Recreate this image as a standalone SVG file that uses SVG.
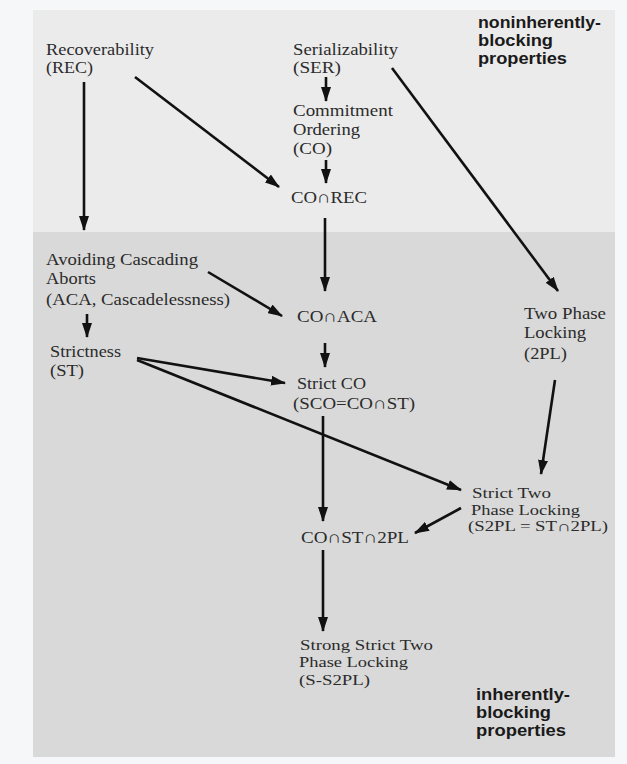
<svg xmlns="http://www.w3.org/2000/svg" width="627" height="764" viewBox="0 0 627 764">
<style>
.t{font-family:"Liberation Serif","Times New Roman",serif;font-size:17px;fill:#2b2b2b}
.s{font-size:15px}
.u{font-size:14.5px}
.b{font-family:"Liberation Sans",Arial,sans-serif;font-size:16px;font-weight:bold;fill:#1a1a1a}
.c line{stroke:#111;stroke-width:2.6;marker-end:url(#ah)}
</style>
<defs>
<marker id="ah" viewBox="0 0 15 10" refX="14" refY="5" markerWidth="15" markerHeight="10" markerUnits="userSpaceOnUse" orient="auto">
<path d="M0,0 L15,5 L0,10 Z" fill="#111"/>
</marker>
</defs>
<rect x="0" y="0" width="627" height="764" fill="#f6f7f8"/>
<rect x="33" y="10" width="582" height="222" fill="#ebebeb"/>
<rect x="33" y="232" width="582" height="525" fill="#d9d9d9"/>
<g class="c">
<line x1="84" y1="82" x2="84" y2="230"/>
<line x1="135" y1="77" x2="279" y2="187"/>
<line x1="326" y1="77" x2="326" y2="101"/>
<line x1="326" y1="160" x2="326" y2="183"/>
<line x1="325" y1="218" x2="325" y2="291"/>
<line x1="392" y1="68" x2="558" y2="291"/>
<line x1="208" y1="272" x2="282" y2="316"/>
<line x1="87" y1="314" x2="87" y2="337"/>
<line x1="325" y1="343" x2="325" y2="367"/>
<line x1="137" y1="358" x2="285" y2="383"/>
<line x1="137" y1="360" x2="461" y2="490"/>
<line x1="323" y1="416" x2="323" y2="521"/>
<line x1="555" y1="380" x2="541" y2="474"/>
<line x1="461" y1="508" x2="415" y2="533"/>
<line x1="323" y1="550" x2="323" y2="631"/>
</g>
<g id="rec"><text class="t" x="46" y="55" textLength="108" lengthAdjust="spacingAndGlyphs">Recoverability</text><text class="t" x="46" y="73" textLength="47" lengthAdjust="spacingAndGlyphs">(REC)</text></g>
<g id="ser"><text class="t" x="293" y="55" textLength="105" lengthAdjust="spacingAndGlyphs">Serializability</text><text class="t" x="293" y="73" textLength="48" lengthAdjust="spacingAndGlyphs">(SER)</text></g>
<g id="co"><text class="t" x="293" y="116" textLength="100" lengthAdjust="spacingAndGlyphs">Commitment</text><text class="t" x="293" y="135" textLength="67" lengthAdjust="spacingAndGlyphs">Ordering</text><text class="t" x="293" y="154" textLength="39" lengthAdjust="spacingAndGlyphs">(CO)</text></g>
<g id="corec"><text class="t" x="291" y="203" textLength="76" lengthAdjust="spacingAndGlyphs">CO∩REC</text></g>
<g id="aca"><text class="t" x="46" y="265" textLength="152" lengthAdjust="spacingAndGlyphs">Avoiding Cascading</text><text class="t" x="46" y="284" textLength="50" lengthAdjust="spacingAndGlyphs">Aborts</text><text class="t" x="46" y="305" textLength="184" lengthAdjust="spacingAndGlyphs">(ACA, Cascadelessness)</text></g>
<g id="coaca"><text class="t" x="297" y="322" textLength="80" lengthAdjust="spacingAndGlyphs">CO∩ACA</text></g>
<g id="st"><text class="t" x="50" y="357" textLength="71" lengthAdjust="spacingAndGlyphs">Strictness</text><text class="t" x="50" y="376" textLength="34" lengthAdjust="spacingAndGlyphs">(ST)</text></g>
<g id="sco"><text class="t" x="297" y="389" textLength="69" lengthAdjust="spacingAndGlyphs">Strict CO</text><text class="t" x="293" y="409" textLength="122" lengthAdjust="spacingAndGlyphs">(SCO=CO∩ST)</text></g>
<g id="tpl"><text class="t" x="524" y="319" textLength="82" lengthAdjust="spacingAndGlyphs">Two Phase</text><text class="t" x="524" y="338" textLength="62" lengthAdjust="spacingAndGlyphs">Locking</text><text class="t" x="524" y="359" textLength="43" lengthAdjust="spacingAndGlyphs">(2PL)</text></g>
<g id="s2pl"><text class="t u" x="472" y="498" textLength="79" lengthAdjust="spacingAndGlyphs">Strict Two</text><text class="t u" x="471" y="514.5" textLength="109" lengthAdjust="spacingAndGlyphs">Phase Locking</text><text class="t u" x="468" y="531" textLength="140" lengthAdjust="spacingAndGlyphs">(S2PL = ST∩2PL)</text></g>
<g id="cost2pl"><text class="t" x="301" y="543" textLength="108" lengthAdjust="spacingAndGlyphs">CO∩ST∩2PL</text></g>
<g id="ss2pl"><text class="t s" x="300" y="650" textLength="133" lengthAdjust="spacingAndGlyphs">Strong Strict Two</text><text class="t s" x="299" y="667" textLength="109" lengthAdjust="spacingAndGlyphs">Phase Locking</text><text class="t s" x="299" y="685" textLength="71" lengthAdjust="spacingAndGlyphs">(S-S2PL)</text></g>
<g id="nonblock"><text class="b" x="478" y="28" textLength="123" lengthAdjust="spacingAndGlyphs">noninherently-</text><text class="b" x="478" y="46" textLength="75" lengthAdjust="spacingAndGlyphs">blocking</text><text class="b" x="478" y="64" textLength="89" lengthAdjust="spacingAndGlyphs">properties</text></g>
<g id="block"><text class="b" x="476" y="700" textLength="94" lengthAdjust="spacingAndGlyphs">inherently-</text><text class="b" x="476" y="718" textLength="75" lengthAdjust="spacingAndGlyphs">blocking</text><text class="b" x="476" y="736" textLength="90" lengthAdjust="spacingAndGlyphs">properties</text></g>
</svg>
